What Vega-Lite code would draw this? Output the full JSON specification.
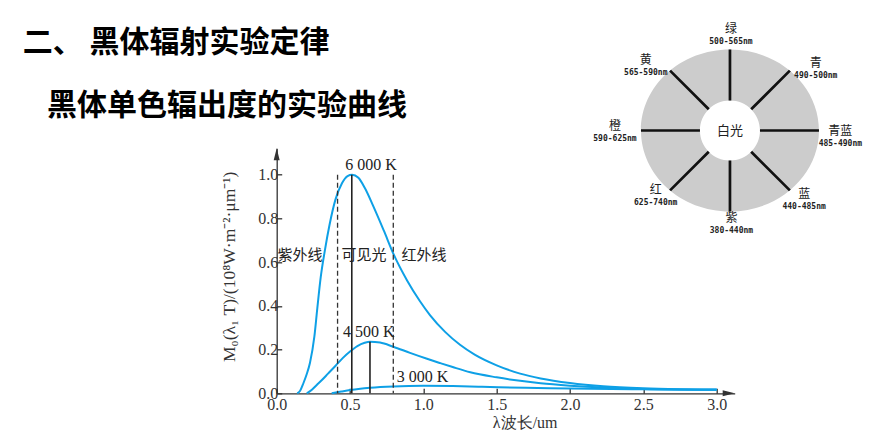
{
  "$schema": "https://vega.github.io/schema/vega-lite/v6.json",
  "width": 458,
  "height": 245,
  "autosize": "none",
  "padding": {"left": 276.7, "top": 148.3, "right": 138.3, "bottom": 36.7},
  "background": "white",
  "config": {"view": {"stroke": null}, "font": "Liberation Serif"},
  "title": {
    "text": "二、 黑体辐射实验定律",
    "subtitle": "\u200b\u2002\u2005\u200a黑体单色辐出度的实验曲线",
    "anchor": "start",
    "frame": "group",
    "dx": -254,
    "dy": 98,
    "offset": 0,
    "font": "Noto Sans CJK SC",
    "fontSize": 30,
    "fontWeight": "bold",
    "color": "#000000",
    "subtitleFont": "Noto Sans CJK SC",
    "subtitleFontSize": 30,
    "subtitleFontWeight": "bold",
    "subtitleColor": "#000000",
    "subtitlePadding": 33
  },
  "datasets": {
    "curves": [
      {"T": "6000K", "lam": 0.14, "val": 0},
      {"T": "6000K", "lam": 0.16, "val": 0.012},
      {"T": "6000K", "lam": 0.182, "val": 0.046},
      {"T": "6000K", "lam": 0.205, "val": 0.088},
      {"T": "6000K", "lam": 0.227, "val": 0.14},
      {"T": "6000K", "lam": 0.257, "val": 0.26},
      {"T": "6000K", "lam": 0.277, "val": 0.39},
      {"T": "6000K", "lam": 0.3, "val": 0.53},
      {"T": "6000K", "lam": 0.33, "val": 0.66},
      {"T": "6000K", "lam": 0.36, "val": 0.77},
      {"T": "6000K", "lam": 0.4, "val": 0.885},
      {"T": "6000K", "lam": 0.445, "val": 0.961},
      {"T": "6000K", "lam": 0.483, "val": 0.994},
      {"T": "6000K", "lam": 0.514, "val": 1.0},
      {"T": "6000K", "lam": 0.557, "val": 0.986},
      {"T": "6000K", "lam": 0.602, "val": 0.938},
      {"T": "6000K", "lam": 0.66, "val": 0.854},
      {"T": "6000K", "lam": 0.73, "val": 0.745},
      {"T": "6000K", "lam": 0.8, "val": 0.632},
      {"T": "6000K", "lam": 0.89, "val": 0.515},
      {"T": "6000K", "lam": 0.977, "val": 0.421},
      {"T": "6000K", "lam": 1.045, "val": 0.358},
      {"T": "6000K", "lam": 1.15, "val": 0.28},
      {"T": "6000K", "lam": 1.25, "val": 0.222},
      {"T": "6000K", "lam": 1.35, "val": 0.177},
      {"T": "6000K", "lam": 1.5, "val": 0.128},
      {"T": "6000K", "lam": 1.66, "val": 0.09},
      {"T": "6000K", "lam": 1.8, "val": 0.068},
      {"T": "6000K", "lam": 2.0, "val": 0.047},
      {"T": "6000K", "lam": 2.227, "val": 0.032},
      {"T": "6000K", "lam": 2.5, "val": 0.023},
      {"T": "6000K", "lam": 2.75, "val": 0.019},
      {"T": "6000K", "lam": 3.0, "val": 0.017},
      {"T": "4500K", "lam": 0.205, "val": 0},
      {"T": "4500K", "lam": 0.24, "val": 0.016},
      {"T": "4500K", "lam": 0.273, "val": 0.038},
      {"T": "4500K", "lam": 0.31, "val": 0.062},
      {"T": "4500K", "lam": 0.35, "val": 0.09},
      {"T": "4500K", "lam": 0.4, "val": 0.125},
      {"T": "4500K", "lam": 0.45, "val": 0.161},
      {"T": "4500K", "lam": 0.5, "val": 0.191},
      {"T": "4500K", "lam": 0.55, "val": 0.216},
      {"T": "4500K", "lam": 0.6, "val": 0.231},
      {"T": "4500K", "lam": 0.636, "val": 0.236},
      {"T": "4500K", "lam": 0.705, "val": 0.232},
      {"T": "4500K", "lam": 0.795, "val": 0.213},
      {"T": "4500K", "lam": 0.909, "val": 0.185},
      {"T": "4500K", "lam": 1.025, "val": 0.158},
      {"T": "4500K", "lam": 1.116, "val": 0.138},
      {"T": "4500K", "lam": 1.2, "val": 0.12},
      {"T": "4500K", "lam": 1.32, "val": 0.096},
      {"T": "4500K", "lam": 1.5, "val": 0.073},
      {"T": "4500K", "lam": 1.66, "val": 0.057},
      {"T": "4500K", "lam": 1.8, "val": 0.046},
      {"T": "4500K", "lam": 2.0, "val": 0.035},
      {"T": "4500K", "lam": 2.227, "val": 0.026},
      {"T": "4500K", "lam": 2.5, "val": 0.02},
      {"T": "4500K", "lam": 3.0, "val": 0.016},
      {"T": "3000K", "lam": 0.375, "val": 0},
      {"T": "3000K", "lam": 0.44, "val": 0.008},
      {"T": "3000K", "lam": 0.5, "val": 0.015},
      {"T": "3000K", "lam": 0.57, "val": 0.021},
      {"T": "3000K", "lam": 0.636, "val": 0.025},
      {"T": "3000K", "lam": 0.795, "val": 0.031},
      {"T": "3000K", "lam": 1.0, "val": 0.034},
      {"T": "3000K", "lam": 1.2, "val": 0.033},
      {"T": "3000K", "lam": 1.4, "val": 0.03},
      {"T": "3000K", "lam": 1.7, "val": 0.025},
      {"T": "3000K", "lam": 2.0, "val": 0.022},
      {"T": "3000K", "lam": 2.5, "val": 0.018},
      {"T": "3000K", "lam": 3.0, "val": 0.016}
    ],
    "guides": [
      {"kind": "boundary", "lam": 0.415, "base": 0, "top": 1.0},
      {"kind": "boundary", "lam": 0.795, "base": 0, "top": 1.0},
      {"kind": "peak", "lam": 0.512, "base": 0, "top": 1.0},
      {"kind": "peak", "lam": 0.636, "base": 0, "top": 0.236}
    ],
    "notes": [
      {"kind": "temp", "txt": "6 000 K", "lam": 0.644, "val": 1.043},
      {"kind": "temp", "txt": "4 500 K", "lam": 0.628, "val": 0.281},
      {"kind": "temp", "txt": "3 000 K", "lam": 0.994, "val": 0.075},
      {"kind": "band", "txt": "紫外线", "lam": 0.159, "val": 0.632},
      {"kind": "band", "txt": "可见光", "lam": 0.595, "val": 0.632},
      {"kind": "band", "txt": "红外线", "lam": 1.005, "val": 0.632}
    ],
    "arrows": [
      {"dir": "up", "lam": 0, "val": 1.121},
      {"dir": "right", "lam": 3.123, "val": 0}
    ],
    "hub": [
      {"t": "白光", "lam": 3.0907, "val": 1.2024}
    ],
    "wheel": [
      {"name": "绿", "nm": "500-565nm", "lam": 3.0972, "val": 1.6349},
      {"name": "青", "nm": "490-500nm", "lam": 3.6756, "val": 1.4815},
      {"name": "青蓝", "nm": "485-490nm", "lam": 3.8433, "val": 1.1727},
      {"name": "蓝", "nm": "440-485nm", "lam": 3.5965, "val": 0.8844},
      {"name": "紫", "nm": "380-440nm", "lam": 3.1008, "val": 0.7723},
      {"name": "红", "nm": "625-740nm", "lam": 2.5841, "val": 0.9013},
      {"name": "橙", "nm": "590-625nm", "lam": 2.3066, "val": 1.1933},
      {"name": "黄", "nm": "565-590nm", "lam": 2.5166, "val": 1.493}
    ]
  },
  "layer": [
    {
      "data": {"name": "curves"},
      "mark": {"type": "line", "interpolate": "monotone", "strokeWidth": 2, "color": "#0ea0e6"},
      "encoding": {
        "x": {
          "field": "lam",
          "type": "quantitative",
          "scale": {"domain": [0, 3.123], "nice": false, "zero": false},
          "axis": {
            "title": "λ波长/um",
            "values": [0, 0.5, 1, 1.5, 2, 2.5, 3],
            "format": ".1f",
            "grid": false,
            "labelFlush": false,
            "domainColor": "#333333",
            "domainWidth": 1.3,
            "tickColor": "#333333",
            "tickWidth": 1.3,
            "tickSize": -5,
            "labelPadding": 8,
            "labelFont": "Liberation Serif",
            "labelFontSize": 16,
            "labelColor": "#333333",
            "titleFont": "Liberation Serif",
            "titleFontSize": 16,
            "titleFontWeight": "normal",
            "titleColor": "#333333",
            "titleX": 248,
            "titleY": 29,
            "titleAlign": "center",
            "titleBaseline": "middle"
          }
        },
        "y": {
          "field": "val",
          "type": "quantitative",
          "scale": {"domain": [0, 1.121], "nice": false},
          "axis": {
            "title": "M₀(λ₁ T)/(10⁸W·m⁻²·μm⁻¹)",
            "values": [0, 0.2, 0.4, 0.6, 0.8, 1.0],
            "format": ".1f",
            "grid": false,
            "domainColor": "#333333",
            "domainWidth": 1.3,
            "tickColor": "#333333",
            "tickWidth": 1.3,
            "tickSize": -5,
            "labelPadding": 4,
            "labelFont": "Liberation Serif",
            "labelFontSize": 16,
            "labelColor": "#333333",
            "titleFont": "Liberation Serif",
            "titleFontSize": 17.5,
            "titleFontWeight": "normal",
            "titleColor": "#333333",
            "titleAngle": 270,
            "titleX": -47,
            "titleY": 118,
            "titleAlign": "center",
            "titleBaseline": "middle"
          }
        },
        "detail": {"field": "T", "type": "nominal"}
      }
    },
    {
      "data": {"name": "guides"},
      "transform": [{"filter": "datum.kind === 'boundary'"}],
      "mark": {"type": "rule", "color": "#333333", "strokeWidth": 1.3, "strokeDash": [5, 3]},
      "encoding": {
        "x": {"field": "lam", "type": "quantitative"},
        "y": {"field": "top", "type": "quantitative"},
        "y2": {"field": "base"}
      }
    },
    {
      "data": {"name": "guides"},
      "transform": [{"filter": "datum.kind === 'peak'"}],
      "mark": {"type": "rule", "color": "#222222", "strokeWidth": 1.6},
      "encoding": {
        "x": {"field": "lam", "type": "quantitative"},
        "y": {"field": "top", "type": "quantitative"},
        "y2": {"field": "base"}
      }
    },
    {
      "data": {"name": "notes"},
      "transform": [{"filter": "datum.kind === 'temp'"}],
      "mark": {"type": "text", "font": "Liberation Serif", "fontSize": 16, "color": "#222222", "align": "center", "baseline": "middle"},
      "encoding": {
        "x": {"field": "lam", "type": "quantitative"},
        "y": {"field": "val", "type": "quantitative"},
        "text": {"field": "txt", "type": "nominal"}
      }
    },
    {
      "data": {"name": "notes"},
      "transform": [{"filter": "datum.kind === 'band'"}],
      "mark": {"type": "text", "font": "Noto Sans CJK SC", "fontSize": 15, "color": "#222222", "align": "center", "baseline": "middle"},
      "encoding": {
        "x": {"field": "lam", "type": "quantitative"},
        "y": {"field": "val", "type": "quantitative"},
        "text": {"field": "txt", "type": "nominal"}
      }
    },
    {
      "data": {"name": "arrows"},
      "transform": [{"filter": "datum.dir === 'up'"}],
      "mark": {"type": "point", "shape": "M0,0L0.25,1L-0.25,1Z", "size": 576, "filled": true, "color": "#333333", "opacity": 1},
      "encoding": {
        "x": {"field": "lam", "type": "quantitative"},
        "y": {"field": "val", "type": "quantitative"}
      }
    },
    {
      "data": {"name": "arrows"},
      "transform": [{"filter": "datum.dir === 'right'"}],
      "mark": {"type": "point", "shape": "M0,0L-1,0.25L-1,-0.25Z", "size": 576, "filled": true, "color": "#333333", "opacity": 1},
      "encoding": {
        "x": {"field": "lam", "type": "quantitative"},
        "y": {"field": "val", "type": "quantitative"}
      }
    },
    {
      "data": {"name": "hub"},
      "mark": {
        "type": "point",
        "shape": "M-0.89,0A0.89,0.81,0,1,1,0.89,0A0.89,0.81,0,1,1,-0.89,0ZM-0.3,0A0.3,0.3,0,1,0,0.3,0A0.3,0.3,0,1,0,-0.3,0Z",
        "size": 40000,
        "filled": true,
        "color": "#cccccc",
        "opacity": 1
      },
      "encoding": {
        "x": {"field": "lam", "type": "quantitative"},
        "y": {"field": "val", "type": "quantitative"}
      }
    },
    {
      "data": {"name": "hub"},
      "mark": {
        "type": "point",
        "shape": "M0,-0.3L0,-0.81M0.212,-0.212L0.599,-0.599M0.3,0L0.89,0M0.212,0.212L0.599,0.599M0,0.3L0,0.81M-0.212,0.212L-0.599,0.599M-0.3,0L-0.89,0M-0.212,-0.212L-0.599,-0.599",
        "size": 40000,
        "filled": false,
        "color": "#111111",
        "strokeWidth": 2.7,
        "opacity": 1
      },
      "encoding": {
        "x": {"field": "lam", "type": "quantitative"},
        "y": {"field": "val", "type": "quantitative"}
      }
    },
    {
      "data": {"name": "hub"},
      "mark": {"type": "text", "font": "Noto Sans CJK SC", "fontSize": 13, "color": "#222222", "align": "center", "baseline": "middle"},
      "encoding": {
        "x": {"field": "lam", "type": "quantitative"},
        "y": {"field": "val", "type": "quantitative"},
        "text": {"field": "t", "type": "nominal"}
      }
    },
    {
      "data": {"name": "wheel"},
      "mark": {"type": "text", "font": "Noto Sans CJK SC", "fontSize": 12, "color": "#222222", "align": "center", "baseline": "middle", "dy": -6.5},
      "encoding": {
        "x": {"field": "lam", "type": "quantitative"},
        "y": {"field": "val", "type": "quantitative"},
        "text": {"field": "name", "type": "nominal"}
      }
    },
    {
      "data": {"name": "wheel"},
      "mark": {"type": "text", "font": "DejaVu Sans Mono", "fontSize": 8, "fontWeight": "bold", "color": "#222222", "align": "center", "baseline": "middle", "dy": 6.5},
      "encoding": {
        "x": {"field": "lam", "type": "quantitative"},
        "y": {"field": "val", "type": "quantitative"},
        "text": {"field": "nm", "type": "nominal"}
      }
    }
  ]
}
